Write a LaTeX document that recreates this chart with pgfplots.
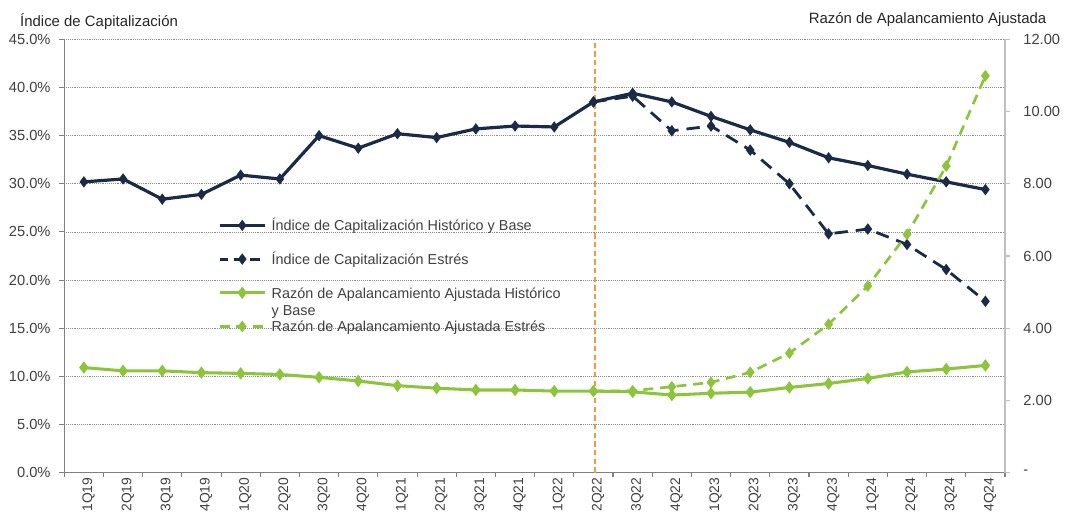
\documentclass[border=0pt]{standalone}
\usepackage{fontspec}
\setmainfont{Liberation Sans}
\usepackage{pgfplots}
\pgfplotsset{compat=1.18}

\definecolor{navy}{HTML}{1B2A47}
\definecolor{lime}{HTML}{8CC43C}
\definecolor{vline}{HTML}{F39B3A}
\definecolor{txt}{HTML}{404040}

\newcommand\lgs{\vphantom{Íjy}}

\begin{document}
\begin{tikzpicture}
\useasboundingbox (-48.2pt,-33.2pt) rectangle (755pt,354.5pt);
\pgfplotsset{
  every axis/.append style={
    scale only axis, width=705.5pt, height=325pt,
    xmin=-0.5, xmax=23.5, clip=false,
    tick align=outside, major tick length=3.6pt,
  },
}
% left axis: capitalizacion
\begin{axis}[
  axis x line*=bottom, axis y line*=left,
  axis line style={black!50, line width=0.8pt},
  tick style={black!50, line width=0.8pt},
  ymin=0, ymax=45, ytick={0,5,...,45},
  yticklabels={0.0\%,5.0\%,10.0\%,15.0\%,20.0\%,25.0\%,30.0\%,35.0\%,40.0\%,45.0\%},
  yticklabel style={text=txt, font=\fontsize{11}{13}\selectfont, inner sep=0pt, xshift=-6.5pt},
  ymajorgrids, grid style={densely dotted, black!45, line width=0.6pt},
  x tick label as interval,
  xtick={-0.5,0.5,...,23.5},
  xticklabels={1Q19,2Q19,3Q19,4Q19,1Q20,2Q20,3Q20,4Q20,1Q21,2Q21,3Q21,4Q21,
               1Q22,2Q22,3Q22,4Q22,1Q23,2Q23,3Q23,4Q23,1Q24,2Q24,3Q24,4Q24},
  xticklabel style={rotate=90, anchor=east, text=txt, font=\fontsize{10.4}{12}\selectfont, inner sep=0pt, yshift=-3.5pt},
]
\addplot[draw=vline, color=vline, line width=1.5pt, dash pattern=on 4pt off 2.5pt, forget plot] coordinates {(13.05,0) (13.05,45)};
\addplot[navy, line width=2.1pt, dash pattern=on 10pt off 6pt, mark=diamond*, mark size=2.6pt, mark options={solid}] coordinates {
  (13,38.5) (14,39.1) (15,35.5) (16,36.0) (17,33.5) (18,30.0)
  (19,24.8) (20,25.3) (21,23.7) (22,21.1) (23,17.8)
};
\addplot[navy, line width=2.4pt, mark=diamond*, mark size=2.3pt] coordinates {
  (0,30.2) (1,30.5) (2,28.4) (3,28.9) (4,30.9) (5,30.5) (6,35.0) (7,33.7)
  (8,35.2) (9,34.8) (10,35.7) (11,36.0) (12,35.9) (13,38.5) (14,39.4) (15,38.5)
  (16,37.0) (17,35.6) (18,34.3) (19,32.7) (20,31.9) (21,31.0) (22,30.2) (23,29.4)
};
\end{axis}
% right axis: razon de apalancamiento
\begin{axis}[
  axis y line*=right, axis x line=none,
  axis line style={black!25, line width=0.8pt},
  tick style={black!25, line width=0.8pt},
  ymin=0, ymax=12, ytick={0,2,...,12},
  yticklabels={-,2.00,4.00,6.00,8.00,10.00,12.00},
  yticklabel style={text=txt, font=\fontsize{11}{13}\selectfont, inner sep=0pt, xshift=10pt, anchor=west},
  legend cell align=left,
  legend image code/.code={\draw[mark repeat=2,mark phase=2,#1] plot coordinates {(0pt,0pt) (16.9pt,0pt) (33.75pt,0pt)};},
  legend style={draw=none, fill=none, at={(0.159,0.454)}, anchor=west,
    font=\fontsize{10.8}{12.75}\selectfont, text=txt, row sep=14.4pt,
    nodes={inner sep=0pt},
    /tikz/every odd column/.append style={column sep=4pt}},
]
\addlegendimage{navy, line width=2.4pt, mark=diamond*, mark size=2.3pt}
\addlegendentry{\lgs Índice de Capitalización Histórico y Base}
\addlegendimage{navy, line width=2.1pt, dash pattern=on 7pt off 5pt, dash phase=1pt, mark=diamond*, mark size=2.6pt, mark options={solid}}
\addlegendentry{\lgs Índice de Capitalización Estrés}
\addplot[lime, line width=2.3pt, mark=diamond*, mark size=2.8pt] coordinates {
  (0,2.91) (1,2.82) (2,2.82) (3,2.77) (4,2.75) (5,2.72) (6,2.64) (7,2.54)
  (8,2.41) (9,2.34) (10,2.29) (11,2.29) (12,2.26) (13,2.26) (14,2.24) (15,2.15)
  (16,2.20) (17,2.23) (18,2.36) (19,2.47) (20,2.61) (21,2.79) (22,2.87) (23,2.97)
};
\addlegendentry{\lgs\smash{\parbox[t]{260pt}{\raggedright Razón de Apalancamiento Ajustada Histórico\\y Base}}}
\addplot[lime, line width=2pt, dash pattern=on 7.5pt off 5pt, mark=diamond*, mark size=2.8pt, mark options={solid}] coordinates {
  (13,2.26) (14,2.27) (15,2.38) (16,2.50) (17,2.78) (18,3.31)
  (19,4.11) (20,5.17) (21,6.60) (22,8.49) (23,10.99)
};
\addlegendentry{\lgs Razón de Apalancamiento Ajustada Estrés}
\end{axis}
\node[anchor=base west, font=\fontsize{11.2}{13}\selectfont, text=black!85] at (-36.6pt,334.5pt) {Índice de Capitalización};
\node[anchor=base east, font=\fontsize{11.2}{13}\selectfont, text=black!85] at (740pt,337pt) {Razón de Apalancamiento Ajustada};
\end{tikzpicture}
\end{document}
